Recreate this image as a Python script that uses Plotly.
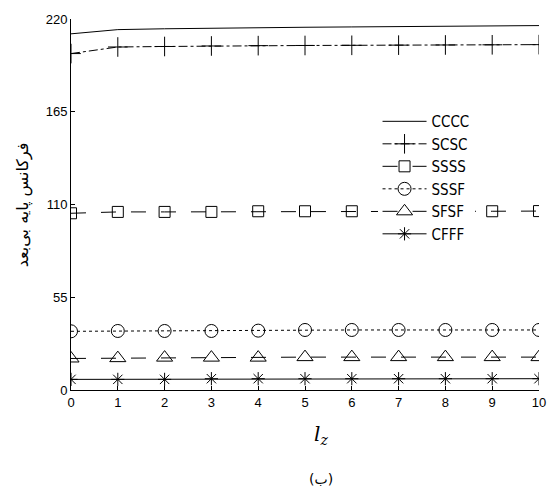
import plotly.graph_objects as go

lz = [0, 1, 2, 3, 4, 5, 6, 7, 8, 9, 10]
cccc = [211.2, 213.7, 214.2, 214.6, 214.9, 215.1, 215.3, 215.5, 215.7, 215.9, 216.1]
scsc = [199.5, 203.4, 203.7, 204.0, 204.2, 204.3, 204.4, 204.5, 204.6, 204.7, 204.8]
ssss = [104.8, 105.6, 105.6, 105.6, 106.0, 106.0, 106.0, 106.0, 106.0, 106.0, 106.1]
sssf = [34.8, 35.0, 35.0, 35.0, 35.2, 35.6, 35.6, 35.6, 35.6, 35.6, 35.6]
sfsf = [18.7, 18.9, 19.2, 19.2, 19.2, 19.5, 19.5, 19.5, 19.5, 19.5, 19.5]
cfff = [6.3, 6.3, 6.3, 6.7, 6.7, 6.7, 6.7, 6.7, 6.7, 6.7, 6.7]
y_ticks = [0, 55, 110, 165, 220]
x_ticks = lz

series = [
    ("CCCC", cccc, "solid", None, 1),
    ("SCSC", scsc, "dashdot", "cross-thin-open", 14),
    ("SSSS", ssss, "longdash", "square-open", 11),
    ("SSSF", sssf, "dot", "circle-open", 13),
    ("SFSF", sfsf, "longdash", "triangle-up-open", 14),
    ("CFFF", cfff, "solid", "asterisk-open", 11),
]

fig = go.Figure()
for name, vals, dash, sym, size in series:
    fig.add_trace(go.Scatter(
        x=lz, y=vals, name=name,
        mode="lines" if sym is None else "lines+markers",
        line=dict(color="black", width=1, dash=dash),
        marker=dict(symbol=sym if sym else "circle", size=size, color="black",
                    line=dict(color="black", width=1)),
    ))

fig.update_layout(
    width=558, height=493,
    margin=dict(l=71, r=12, t=15, b=103),
    paper_bgcolor="white", plot_bgcolor="white",
    font=dict(family="Liberation Sans, Arial", size=13, color="black"),
    showlegend=True,
    legend=dict(x=0.655, y=0.768, xanchor="left", yanchor="top",
                bgcolor="white", itemwidth=44,
                font=dict(family="Liberation Sans Narrow, DejaVu Sans Condensed, Liberation Sans",
                          size=15, color="black"),
                tracegroupgap=0),
    xaxis=dict(range=[0, 10], tickvals=x_ticks, ticks="inside", ticklen=4,
               showline=True, linecolor="black", linewidth=1, mirror=False,
               showgrid=False, zeroline=False, tickcolor="black"),
    yaxis=dict(range=[0, 220], tickvals=y_ticks, ticks="inside", ticklen=4,
               showline=True, linecolor="black", linewidth=1, mirror=False,
               showgrid=False, zeroline=False, tickcolor="black"),
    annotations=[
        dict(text="فرکانس پایه بی‌بعد", xref="paper", yref="paper",
             x=-0.103, y=0.5, xanchor="center", yanchor="middle",
             textangle=-90, showarrow=False,
             font=dict(family="DejaVu Sans", size=16, color="black")),
        dict(text="<i>l</i><sub><i>z</i></sub>", xref="paper", yref="paper",
             x=0.535, y=-0.12, xanchor="center", yanchor="middle", showarrow=False,
             font=dict(family="DejaVu Serif", size=20, color="black")),
        dict(text="(ب)", xref="paper", yref="paper",
             x=0.535, y=-0.24, xanchor="center", yanchor="middle", showarrow=False,
             font=dict(family="DejaVu Sans", size=14, color="black")),
    ],
)

fig.write_html("out.html", config={"displayModeBar": False},
               post_script="document.body.style.margin='0';")
